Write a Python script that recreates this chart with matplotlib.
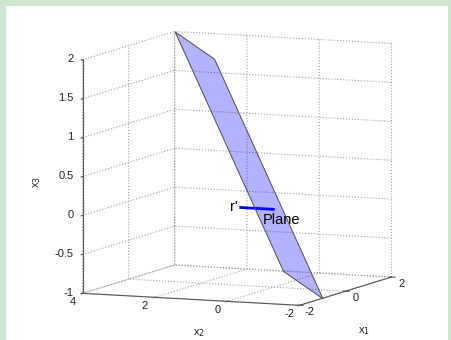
import matplotlib
matplotlib.use("Agg")
import matplotlib.pyplot as plt
from matplotlib.patches import Rectangle
from mpl_toolkits.mplot3d.art3d import Poly3DCollection
import numpy as np

plt.rcParams['font.family'] = ['Liberation Sans', 'DejaVu Sans']
plt.rcParams['axes.unicode_minus'] = False

# Data
plane_x1 = [2, -1, -1, 2]
plane_x2 = [4, 1, -2, 1]
plane_x3 = [2, 2, -1, -1]
r_x1 = [0, 0]
r_x2 = [0, 0.9]
r_x3 = [0, 0]
x1_ticks = [-2, 0, 2]
x1_ticklabels = ['-2', '0', '2']
x2_ticks = [-2, 0, 2, 4]
x2_ticklabels = ['-2', '0', '2', '4']
x3_ticks = [-1, -0.5, 0, 0.5, 1, 1.5, 2]
x3_ticklabels = ['-1', '-0.5', '0', '0.5', '1', '1.5', '2']

fig = plt.figure(figsize=(4.51, 3.40), dpi=100, facecolor='#cfe6cf')
fig.patches.append(Rectangle((6/451, 0), (448-6)/451, (340-6)/340,
                             transform=fig.transFigure, facecolor='white',
                             edgecolor='none', zorder=-10))
ax = fig.add_axes([0.0155, -0.0088, 1.0, 1.0], projection='3d', proj_type='ortho')
ax.patch.set_alpha(0)
ax.set_box_aspect((1, 1, 1), zoom=1.165)
ax.view_init(elev=7.5, azim=-157)

verts = [list(zip(plane_x1, plane_x2, plane_x3))]
poly = Poly3DCollection(verts, facecolor=(0, 0, 1, 0.3), edgecolor=(0.3, 0.3, 0.3), linewidth=0.7)
ax.add_collection3d(poly)
ax.plot(r_x1, r_x2, r_x3, color='#0000ff', linewidth=2)
ax.text(0, 1.2, 0, "r'", fontsize=10.5, ha='left', va='center')
ax.text(-0.45, 0, -0.09, "Plane", fontsize=10.5, ha='left', va='center')

ax.set_xlim(-2, 2)
ax.set_ylim(-2, 4)
ax.set_zlim(-1, 2)
ax.set_xticks(x1_ticks)
ax.set_yticks(x2_ticks)
ax.set_zticks(x3_ticks)
ax.set_xticklabels([])
ax.set_yticklabels([])
ax.set_zticklabels([])

for axis in (ax.xaxis, ax.yaxis, ax.zaxis):
    axis.set_pane_color((1, 1, 1, 0))
    axis.pane.set_edgecolor('none')
    axis._axinfo['grid'].update(color='#a0a0a0', linestyle=':', linewidth=0.8)
    axis.line.set_color('#555555')
    axis.line.set_linewidth(0.8)
ax.tick_params(colors='#555555')

tc = '#222222'
# tick labels placed in data coordinates just outside the box
for v, s in zip(x2_ticks, x2_ticklabels):
    ax.text(-2.43, v, -1.076, s, fontsize=8, ha='center', va='center', color=tc)
for v, s in zip(x1_ticks, x1_ticklabels):
    ax.text(v, -2.275, -1.083, s, fontsize=8, ha='center', va='center', color=tc)
for v, s in zip(x3_ticks, x3_ticklabels):
    ax.text(-2, 4.25, v, s, fontsize=8, ha='right', va='center', color=tc)

# axis labels
ax.text(-2, 5.27, 0.4, 'x$_3$', zdir='z', fontsize=8, ha='center', va='center', color=tc)
ax.text(-2, 0.78, -1.43, 'x$_2$', fontsize=8, ha='center', va='center', color=tc)
ax.text(0.8, -2, -1.59, 'x$_1$', fontsize=8, ha='center', va='center', color=tc)

fig.savefig('out.png', dpi=100, facecolor=fig.get_facecolor())
